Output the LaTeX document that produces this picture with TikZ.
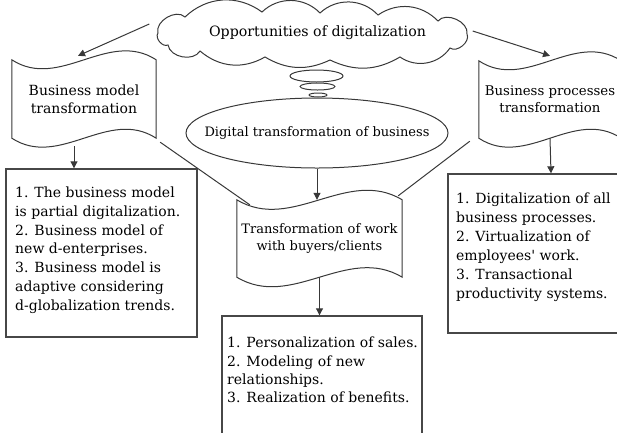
\documentclass[tikz,border=0pt]{standalone}
\usepackage{fontspec}
\setmainfont{DejaVu Serif}
\usetikzlibrary{shapes.geometric,shapes.symbols,arrows.meta}
\newcommand\mytape[3]{%
  \draw[ln] (#1.north west) .. controls ([xshift=#2pt,yshift=-#3pt]#1.north west) and ([xshift=-#2pt,yshift=#3pt]#1.north east) .. (#1.north east)
    -- (#1.south east) .. controls ([xshift=-#2pt,yshift=#3pt]#1.south east) and ([xshift=#2pt,yshift=-#3pt]#1.south west) .. (#1.south west) -- cycle;}
\begin{document}
\begin{tikzpicture}[x=1pt,y=-1pt,
  ln/.style={draw=black!78, line width=1pt},
  arr/.style={ln, -{Triangle[length=7pt,width=7pt]}},
  boxst/.style={draw=black!72, line width=1.4pt, rectangle, inner sep=0pt},
  docbox/.style={inner sep=0pt, align=center},
  txt/.style={align=left, inner sep=0pt, anchor=north west, font=\fontsize{14}{18.7}\selectfont}]
\useasboundingbox (0,0) rectangle (617,432);
\clip (0,0) rectangle (617,432);
% cloud
\node[inner sep=0pt, minimum width=313pt, minimum height=63pt] (cl) at (312,36) {};
\draw[ln] (158,33) to[bend left=75] (185,17) to[bend left=40] (262,12) to[bend left=45] (320,13)
  to[bend left=45] (378,15) to[bend left=40] (438,21) to[bend left=75] (467,34)
  to[bend left=75] (450,48) to[bend left=45] (400,57) to[bend left=28] (330,60)
  to[bend left=28] (265,57) to[bend left=35] (200,51) to[bend left=70] (168,45)
  to[bend left=75] cycle;
\node[inner sep=0pt, font=\fontsize{14.2}{17}\selectfont] (clt) at (317.5,33) {Opportunities of digitalization};
% thought bubbles
\node[ellipse, ln, minimum width=53pt, minimum height=12pt, inner sep=0pt] (b1) at (316.5,76) {};
\node[ellipse, ln, minimum width=35pt, minimum height=7pt, inner sep=0pt] (b2) at (317.5,86.5) {};
\node[ellipse, ln, minimum width=18pt, minimum height=4pt, inner sep=0pt] (b3) at (318,95) {};
% big ellipse
\node[ellipse, ln, minimum width=262pt, minimum height=70pt, inner sep=0pt] (el) at (317,133) {};
\node[inner sep=0pt, font=\fontsize{13}{15}\selectfont] (elt) at (317,133) {Digital transformation of business};
% documents
\node[docbox, minimum width=144pt, minimum height=78pt, font=\fontsize{14}{18}\selectfont] (bm) at (84,99) {Business model\\transformation};
\mytape{bm}{48}{31}
\node[docbox, minimum width=142pt, minimum height=77pt, font=\fontsize{13.3}{17}\selectfont] (bp) at (550,99.5) {Business processes\\transformation};
\mytape{bp}{47.3}{31}
\node[docbox, minimum width=165pt, minimum height=77pt, font=\fontsize{13}{17}\selectfont] (tw) at (319.5,238.5) {Transformation of work\\with buyers/clients};
\mytape{tw}{55}{33}
% boxes
\node[boxst, minimum width=191pt, minimum height=168pt] (lb) at (101.5,253) {};
\node[boxst, minimum width=206pt, minimum height=159pt] (rb) at (551,253.5) {};
\node[boxst, minimum width=200pt, minimum height=129pt] (bb) at (322,380.5) {};
\node[txt] (lbt) at (15,187) {1. The business model\\is partial digitalization.\\2. Business model of\\new d-enterprises.\\3. Business model is\\adaptive considering\\d-globalization trends.};
\node[txt, font=\fontsize{14}{19}\selectfont] (rbt) at (456,193) {1. Digitalization of all\\business processes.\\2. Virtualization of\\employees\textquotesingle{} work.\\3. Transactional\\productivity systems.};
\node[txt, font=\fontsize{14}{18.3}\selectfont] (bbt) at (227,337) {1. Personalization of sales.\\2. Modeling of new\\relationships.\\3. Realization of benefits.};
% arrows
\draw[arr] ([xshift=-6pt,yshift=12pt]cl.west) -- ([xshift=-6pt,yshift=4pt]bm.north);
\draw[arr] ([xshift=4pt,yshift=5pt]cl.east) -- ([yshift=5pt]bp.north);
\draw[arr] ([xshift=-10pt,yshift=-8pt]bm.south) -- ([xshift=-27.5pt]lb.north);
\draw[arr] (bp.south) -- (rb.north);
\draw[arr] (el.south) -- (el.south |- tw.north);
\draw[arr] (tw.south) -- (tw.south |- bb.north);
% funnel lines
\draw[ln] ([xshift=4pt,yshift=-4pt]bm.south east) -- ([xshift=13pt,yshift=-5pt]tw.north west);
\draw[ln] ([xshift=-9pt,yshift=-3pt]bp.south west) -- ([xshift=-4pt,yshift=4pt]tw.north east);
\end{tikzpicture}
\end{document}
